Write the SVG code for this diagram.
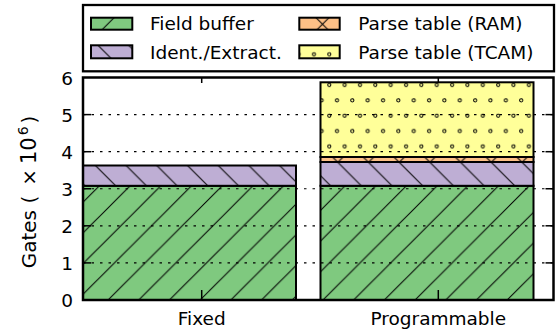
<svg xmlns="http://www.w3.org/2000/svg" width="557" height="333" viewBox="0 0 557 333">
<style>
text{font-family:"DejaVu Sans",sans-serif;font-size:18.5px;fill:#000}
.ax{font-size:19px}
.yl{font-size:20px}
.bar{stroke:#000;stroke-width:2}
.frame{fill:none;stroke:#000;stroke-width:2.5}
.grid{stroke:#000;stroke-width:1.2;stroke-dasharray:2.5 6}
.tick{stroke:#000;stroke-width:1.5}
.h{stroke:#000;stroke-width:1;fill:none}
</style>
<defs>
<pattern id="pG" patternUnits="userSpaceOnUse" x="0" y="0" width="30.7" height="30.7">
<rect width="30.7" height="30.7" fill="#7fc97f"/>
<path class="h" d="M-10,19 L19,-10 M-10,49.7 L49.7,-10"/>
</pattern>
<pattern id="pP" patternUnits="userSpaceOnUse" x="0" y="0" width="30.7" height="30.7">
<rect width="30.7" height="30.7" fill="#beaed4"/>
<path class="h" d="M12,-10 L45,23 M-10,-1.3 L40,48.7"/>
</pattern>
<pattern id="pO" patternUnits="userSpaceOnUse" x="0" y="0" width="30.7" height="30.7">
<rect width="30.7" height="30.7" fill="#fdc086"/>
<path class="h" d="M-10,19 L19,-10 M-10,49.7 L49.7,-10 M12,-10 L45,23 M-10,-1.3 L40,48.7"/>
</pattern>
<pattern id="pY" patternUnits="userSpaceOnUse" x="0" y="0" width="15.35" height="30.7">
<rect width="15.35" height="30.7" fill="#ffff99"/>
<g class="h">
<circle cx="6.95" cy="23.6" r="1.6"/>
<circle cx="14.6" cy="8.25" r="1.6"/>
<circle cx="-0.75" cy="8.25" r="1.6"/>
</g>
</pattern>
</defs>

<g id="bar-fixed">
<rect class="bar" x="83" y="185.8" width="213" height="114.2" fill="url(#pG)"/>
<rect class="bar" x="83" y="165.5" width="213" height="20.3" fill="url(#pP)"/>
</g>
<g id="bar-programmable">
<rect class="bar" x="320.5" y="185.8" width="213" height="114.2" fill="url(#pG)"/>
<rect class="bar" x="320.5" y="162" width="213" height="23.8" fill="url(#pP)"/>
<rect class="bar" x="320.5" y="157" width="213" height="5" fill="url(#pO)"/>
<rect class="bar" x="320.5" y="82.3" width="213" height="74.7" fill="url(#pY)"/>
</g>

<g id="grid">
<line class="grid" x1="83" y1="262.9" x2="553.5" y2="262.9"/>
<line class="grid" x1="83" y1="225.8" x2="553.5" y2="225.8"/>
<line class="grid" x1="83" y1="188.75" x2="553.5" y2="188.75"/>
<line class="grid" x1="83" y1="151.7" x2="553.5" y2="151.7"/>
<line class="grid" x1="83" y1="114.6" x2="553.5" y2="114.6"/>
</g>

<g id="axes">
<g class="tick">
<line x1="83" y1="262.9" x2="91" y2="262.9"/>
<line x1="83" y1="225.8" x2="91" y2="225.8"/>
<line x1="83" y1="188.75" x2="91" y2="188.75"/>
<line x1="83" y1="151.7" x2="91" y2="151.7"/>
<line x1="83" y1="114.6" x2="91" y2="114.6"/>
<line x1="553.5" y1="262.9" x2="545.5" y2="262.9"/>
<line x1="553.5" y1="225.8" x2="545.5" y2="225.8"/>
<line x1="553.5" y1="188.75" x2="545.5" y2="188.75"/>
<line x1="553.5" y1="151.7" x2="545.5" y2="151.7"/>
<line x1="553.5" y1="114.6" x2="545.5" y2="114.6"/>
<line x1="201.7" y1="300" x2="201.7" y2="290"/>
<line x1="438.3" y1="300" x2="438.3" y2="290"/>
<line x1="201.7" y1="77.5" x2="201.7" y2="83"/>
<line x1="438.3" y1="77.5" x2="438.3" y2="83"/>
</g>
<rect class="frame" x="83" y="77.5" width="470.5" height="222.5"/>
<g class="ax" text-anchor="end">
<text x="73" y="307">0</text>
<text x="73" y="269.9">1</text>
<text x="73" y="232.8">2</text>
<text x="73" y="195.7">3</text>
<text x="73" y="158.7">4</text>
<text x="73" y="121.6">5</text>
<text x="73" y="84.5">6</text>
</g>
<g class="ax" text-anchor="middle">
<text x="201.7" y="325">Fixed</text>
<text x="438.3" y="325">Programmable</text>
</g>
<text class="yl" transform="translate(36,268.3) rotate(-90)" x="0" y="0">Gates (<tspan dx="10">×</tspan><tspan dx="5" font-size="21">10</tspan><tspan font-size="14" dy="-8.5" dx="2">6</tspan><tspan dy="8.5" dx="3">)</tspan></text>
</g>

<g id="legend">
<rect x="83" y="5" width="471" height="66.3" fill="#fff" stroke="#000" stroke-width="2.3"/>
<rect class="bar" x="91" y="17.7" width="41.3" height="12" fill="url(#pG)"/>
<rect class="bar" x="91" y="45.3" width="41.3" height="13" fill="url(#pP)"/>
<rect class="bar" x="299.3" y="17.7" width="40.4" height="12" fill="url(#pO)"/>
<rect class="bar" x="299.3" y="45.3" width="40.4" height="13" fill="url(#pY)"/>
<text x="150" y="30">Field buffer</text>
<text x="150" y="59.3">Ident./Extract.</text>
<text x="358.3" y="30">Parse table (RAM)</text>
<text x="358.3" y="59.3">Parse table (TCAM)</text>
</g>
</svg>
